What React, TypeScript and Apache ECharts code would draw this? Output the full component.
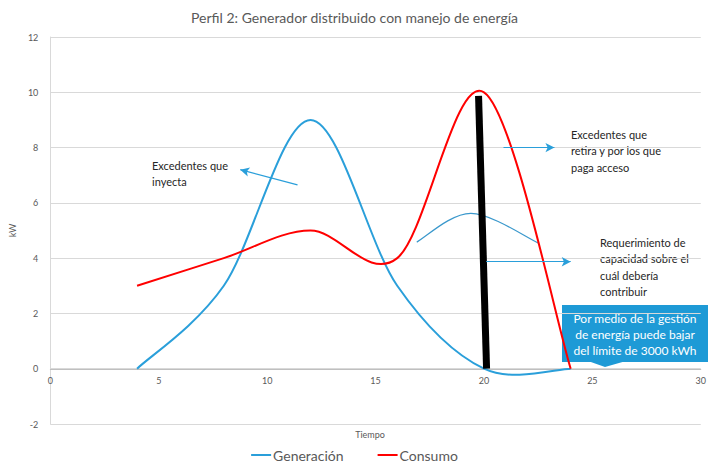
import React, { useEffect, useRef } from "react";
import * as echarts from "echarts";

// Perfil horario cada 4 h: tiempo (h) vs potencia (kW)
const horas = [4, 8, 12, 16, 20, 24];
const generacion = [0, 3, 9, 3, 0, 0];
const consumo = [3, 4, 5, 4, 10, 0];

// Curva de la capacidad requerida sobre el pico
const arcoCapacidad: [number, number][] = [[16.9, 4.58], [19.4, 5.62], [22.5, 4.55]];
// Reducción del pico mediante gestión de energía
const barraPico: [number, number][] = [[19.75, 9.87], [20.12, 0]];

const flechas: [[number, number], [number, number]][] = [
  [[11.4, 6.65], [8.76, 7.2]],
  [[20.9, 8.0], [23.25, 8.0]],
  [[20.1, 3.87], [24.0, 3.87]],
];

const titulo = "Perfil 2: Generador distribuido con manejo de energía";
const notaInyecta = ["Excedentes que", "inyecta"];
const notaRetira = ["Excedentes que", "retira y por los que", "paga acceso"];
const notaCapacidad = ["Requerimiento de", "capacidad sobre el", "cuál debería", "contribuir"];
const notaGestion = ["Por medio de la gestión", "de energía puede bajar", "del límite de 3000 kWh"];

const AZUL = "#2A9FDA";
const ROJO = "#FF0000";
const FONT = "Lato, 'Open Sans', sans-serif";

const pares = (xs: number[], ys: number[]): [number, number][] => xs.map((x, i) => [x, ys[i]]);

// Serie suavizada: curva de Bézier tipo Catmull-Rom a través de los puntos
function curvaSuave(name: string, data: [number, number][], color: string, width: number, z = 3) {
  return {
    name,
    type: "custom",
    data,
    z,
    itemStyle: { color },
    silent: true,
    renderItem: (params: any, api: any) => {
      if (params.dataIndex !== 0) return null;
      const p = data.map((d) => api.coord(d) as number[]);
      const n = p.length;
      let d = `M${p[0][0]},${p[0][1]}`;
      for (let i = 0; i < n - 1; i++) {
        const p0 = p[Math.max(i - 1, 0)];
        const p1 = p[i];
        const p2 = p[i + 1];
        const p3 = p[Math.min(i + 2, n - 1)];
        const c1x = p1[0] + (p2[0] - p0[0]) / 6;
        const c1y = p1[1] + (p2[1] - p0[1]) / 6;
        const c2x = p2[0] - (p3[0] - p1[0]) / 6;
        const c2y = p2[1] - (p3[1] - p1[1]) / 6;
        d += ` C${c1x},${c1y} ${c2x},${c2y} ${p2[0]},${p2[1]}`;
      }
      return {
        type: "path",
        shape: { pathData: d },
        style: { fill: "none", stroke: color, lineWidth: width },
      };
    },
  };
}

export default function App() {
  const ref = useRef<HTMLDivElement>(null);

  useEffect(() => {
    if (!ref.current) return;
    const chart = echarts.init(ref.current, undefined, { renderer: "svg" });

    const noteText = (lines: string[], x: number, y: number) => ({
      type: "text",
      x,
      y,
      style: {
        text: lines.join("\n"),
        fontFamily: FONT,
        fontSize: 11,
        lineHeight: 16.5,
        fill: "#262626",
      },
    });

    chart.setOption({
      animation: false,
      textStyle: { fontFamily: FONT },
      title: {
        text: titulo,
        left: "center",
        top: 5,
        textStyle: { fontSize: 14, fontWeight: "normal", color: "#595959", fontFamily: FONT },
      },
      grid: { left: 44, right: 4, top: 37, bottom: 44, containLabel: false },
      legend: {
        bottom: 1,
        left: "center",
        data: [
          { name: "Generación", icon: "rect" },
          { name: "Consumo", icon: "rect" },
        ],
        itemWidth: 20,
        itemHeight: 2,
        itemGap: 34,
        textStyle: { fontSize: 14, color: "#595959", fontFamily: FONT, padding: [0, 0, 0, -3] },
      },
      xAxis: {
        type: "value",
        min: 0,
        max: 30,
        interval: 5,
        // eje horizontal sobre la línea de 0 kW (55 px por encima del borde inferior)
        offset: -55,
        axisLine: { onZero: false, lineStyle: { color: "#BFBFBF" } },
        axisTick: { show: false },
        splitLine: { show: false },
        axisLabel: { color: "#595959", fontSize: 9, margin: 7 },
      },
      yAxis: {
        type: "value",
        min: -2,
        max: 12,
        interval: 2,
        name: "kW",
        nameLocation: "middle",
        nameRotate: 90,
        nameGap: 28,
        nameTextStyle: { color: "#595959", fontSize: 9 },
        axisLine: { show: true, lineStyle: { color: "#D9D9D9" } },
        axisTick: { show: false },
        splitLine: { lineStyle: { color: "#D9D9D9" } },
        axisLabel: { color: "#595959", fontSize: 9, margin: 12 },
      },
      series: [
        curvaSuave("Generación", pares(horas, generacion), AZUL, 2),
        curvaSuave("Consumo", pares(horas, consumo), ROJO, 2),
        curvaSuave("capacidad", arcoCapacidad, "#3A98CC", 1.2, 2),
        {
          name: "pico",
          type: "line",
          data: barraPico,
          symbol: "none",
          lineStyle: { color: "#000000", width: 7, cap: "butt" },
          silent: true,
          z: 4,
        },
        {
          name: "flechas",
          type: "line",
          data: [],
          silent: true,
          markLine: {
            silent: true,
            symbol: ["none", "arrow"],
            symbolSize: [7, 9],
            label: { show: false },
            lineStyle: { color: AZUL, width: 1.2, type: "solid" },
            data: flechas.map(([a, b]) => [{ coord: a }, { coord: b }]),
          },
        },
      ],
      graphic: [
        noteText(notaInyecta, 152, 157),
        noteText(notaRetira, 571, 126),
        noteText(notaCapacidad, 600, 234),
        {
          type: "text",
          x: 370,
          y: 430,
          style: { text: "Tiempo", fontFamily: FONT, fontSize: 9, fill: "#595959", align: "center" },
        },
        {
          type: "group",
          children: [
            {
              type: "rect",
              shape: { x: 562, y: 305, width: 146, height: 57 },
              style: { fill: "#1E9AD6" },
            },
            {
              type: "polygon",
              shape: { points: [[588, 361], [626, 361], [605, 367]] },
              style: { fill: "#1E9AD6" },
            },
            {
              type: "text",
              x: 635,
              y: 310,
              style: {
                text: notaGestion.join("\n"),
                fontFamily: FONT,
                fontSize: 12,
                lineHeight: 16,
                fill: "#FFFFFF",
                align: "center",
              },
            },
          ],
        },
      ],
    });

    return () => chart.dispose();
  }, []);

  return (
    <div
      ref={ref}
      style={{ position: "absolute", left: 0, top: 0, width: 709, height: 468 }}
    />
  );
}
